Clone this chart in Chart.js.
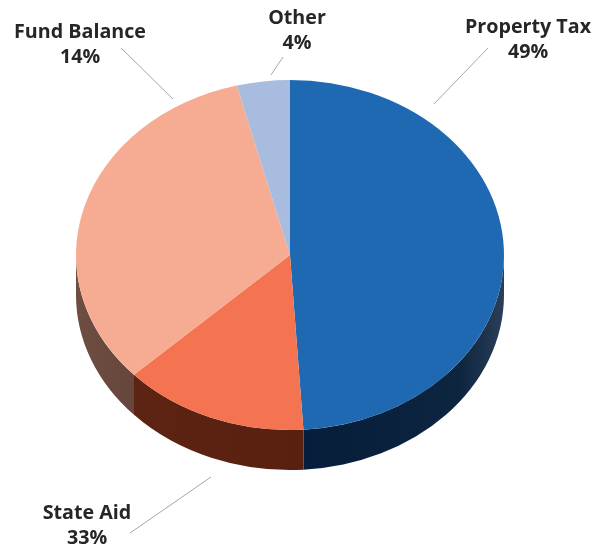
<!DOCTYPE html>
<html>
<head>
<meta charset="utf-8">
<title>Revenue sources</title>
<script src="https://cdn.jsdelivr.net/npm/chart.js@4"></script>
<style>
  html, body { margin: 0; padding: 0; background: #fff; }
  canvas { display: block; }
</style>
</head>
<body>
<canvas id="pieChart" width="606" height="548"></canvas>
<script>
// slices clockwise from 12 o'clock
const sliceNames = ["Property Tax", "Fund Balance", "State Aid", "Other"];
const sliceShares = [49, 14, 33, 4];
const topColors = ["#1f69b3", "#f47351", "#f6ac93", "#a7bcde"];
const wallDark = ["#061d3b", "#59200f", "#66463b", "#5a6b85"];
const wallLight = ["#2a3f58", "#5e2413", "#6e4e42", "#5a6b85"];

// label centre x, first baseline y (same order as the slices)
const labelSpots = [[528, 33], [80, 38], [87, 519], [297, 24]];
// leader lines x1, y1, x2, y2
const leaders = [
  [488, 48, 434, 104],
  [121, 48, 173, 99],
  [211, 477, 130, 533],
  [283, 57, 271, 75],
];

const squash = 175 / 214;
const depth = 40;

const pie3d = {
  id: "pie3d",
  beforeDatasetsDraw(chart) {
    const ctx = chart.ctx;
    const arcs = chart.getDatasetMeta(0).data;
    const cx = arcs[0].x;
    const cy = arcs[0].y;
    const rx = arcs[0].outerRadius;
    const ry = rx * squash;

    // side wall, only the front half shows
    arcs.forEach((arc, i) => {
      const a0 = Math.max(arc.startAngle, 0);
      const a1 = Math.min(arc.endAngle, Math.PI);
      if (a1 <= a0) return;
      const x0 = cx + rx * Math.cos(a0);
      const x1 = cx + rx * Math.cos(a1);
      const grad = ctx.createLinearGradient(Math.min(x0, x1), 0, Math.max(x0, x1), 0);
      // the lighter end sits at the outer edge of the pie
      if (i === 0) {
        grad.addColorStop(0, wallDark[i]);
        grad.addColorStop(0.78, "#0e2540");
        grad.addColorStop(1, wallLight[i]);
      } else {
        grad.addColorStop(0, wallLight[i]);
        grad.addColorStop(1, wallDark[i]);
      }
      ctx.beginPath();
      ctx.ellipse(cx, cy, rx, ry, 0, a0, a1);
      ctx.ellipse(cx, cy + depth, rx, ry, 0, a1, a0, true);
      ctx.closePath();
      ctx.fillStyle = grad;
      ctx.fill();
    });

    // flatten the top face
    ctx.save();
    ctx.translate(cx, cy);
    ctx.scale(1, squash);
    ctx.translate(-cx, -cy);
  },
  afterDatasetsDraw(chart) {
    const ctx = chart.ctx;
    ctx.restore();

    ctx.strokeStyle = "#a6a6a6";
    ctx.lineWidth = 1;
    leaders.forEach((l) => {
      ctx.beginPath();
      ctx.moveTo(l[0], l[1]);
      ctx.lineTo(l[2], l[3]);
      ctx.stroke();
    });

    ctx.fillStyle = "#262626";
    ctx.textAlign = "center";
    ctx.textBaseline = "alphabetic";
    ctx.font = "bold 19.7px 'Open Sans'";
    sliceNames.forEach((name, i) => {
      const [x, y] = labelSpots[i];
      ctx.fillText(name, x, y);
      ctx.fillText(sliceShares[i] + "%", x, y + 25);
    });
  },
};

new Chart(document.getElementById("pieChart").getContext("2d"), {
  type: "pie",
  data: {
    labels: sliceNames,
    datasets: [
      {
        data: sliceShares,
        backgroundColor: topColors,
        borderWidth: 0,
        clip: false,
      },
    ],
  },
  options: {
    responsive: false,
    animation: false,
    layout: { padding: { left: 76, right: 102, top: 41, bottom: 79 } },
    plugins: {
      legend: { display: false },
      tooltip: { enabled: false },
    },
  },
  plugins: [pie3d],
});
</script>
</body>
</html>
